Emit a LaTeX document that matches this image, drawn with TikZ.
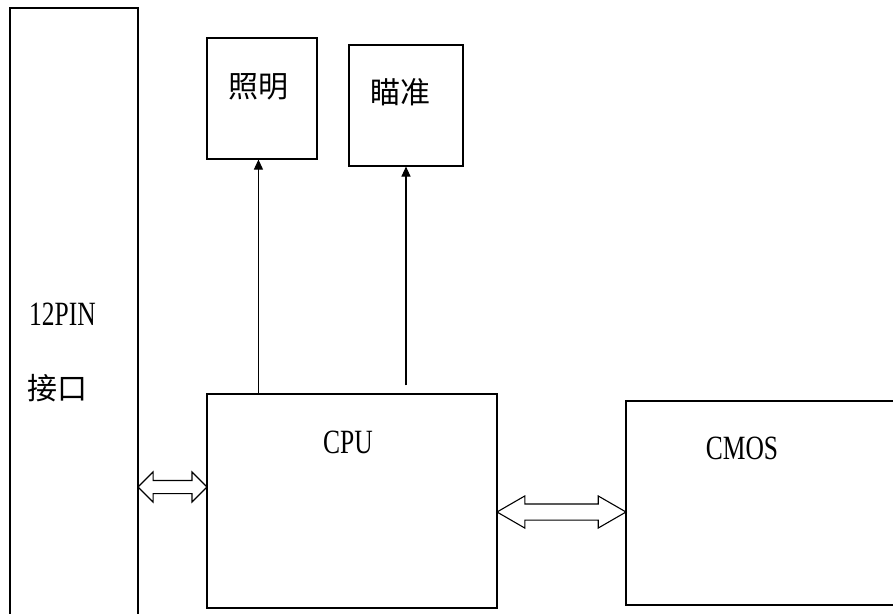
\documentclass[tikz,border=0pt]{standalone}
\usepackage{fontspec}
\setmainfont[FakeStretch=0.75]{Liberation Serif}
\newfontfamily\cjk{Noto Sans CJK SC}
\usetikzlibrary{arrows.meta,shapes.arrows,calc}

\tikzset{
  box/.style={draw, line width=1.1pt, inner sep=0pt},
  txt/.style={inner sep=0pt, font=\fontsize{34}{40}\selectfont},
  hz/.style={inner sep=0pt, font=\fontsize{30}{36}\selectfont\cjk},
  arr/.style={line width=1.1pt, -{Triangle[length=10pt,width=9pt]}},
  bus/.style={double arrow, draw, line width=1.1pt, inner xsep=0pt, double arrow head indent=0pt},
}

\begin{document}
\begin{tikzpicture}[x=1pt,y=-1pt]
    \useasboundingbox (0,0) rectangle (893,613);
    \clip (0,0) rectangle (893,613);

    % boxes
    \node[box, minimum width=128pt, minimum height=660pt] (pin) at (74,338) {};
    \node[box, minimum width=110pt, minimum height=121pt] (light) at (262,98.5) {};
    \node[box, minimum width=114pt, minimum height=121pt] (aim) at (406,105.5) {};
    \node[box, minimum width=290pt, minimum height=214pt] (cpu) at (352,501) {};
    \node[box, minimum width=304pt, minimum height=204pt] (cmos) at (778,503) {};

    % labels
    \node[txt, anchor=west] (pin-a) at (29,314) {12PIN};
    \node[hz, anchor=west] (pin-b) at (27,388) {接口};
    \node[hz] (light-t) at (258,87) {照明};
    \node[hz] (aim-t) at (400,92) {瞄准};
    \node[txt] (cpu-t) at (348,442) {CPU};
    \node[txt] (cmos-t) at (742,448) {CMOS};

    % signals
    \draw[arr] ([xshift=52pt]cpu.north west) -- ([xshift=52pt]cpu.north west |- light.south);
    \draw[arr] ([yshift=8pt]cpu.north -| aim.south) -- (aim.south);

    % buses
    \coordinate (busA) at (0,487);
    \coordinate (busB) at (0,512);
    \node[bus, minimum height=69pt, inner ysep=6pt, double arrow head extend=8.5pt,
          double arrow tip angle=90] (bus1) at ($(pin.east |- busA)!.5!(cpu.west |- busA)$) {};
    \node[bus, minimum height=129pt, inner ysep=7.5pt, double arrow head extend=8pt,
          double arrow tip angle=60] (bus2) at ($(cpu.east |- busB)!.5!(cmos.west |- busB)$) {};
\end{tikzpicture}
\end{document}
